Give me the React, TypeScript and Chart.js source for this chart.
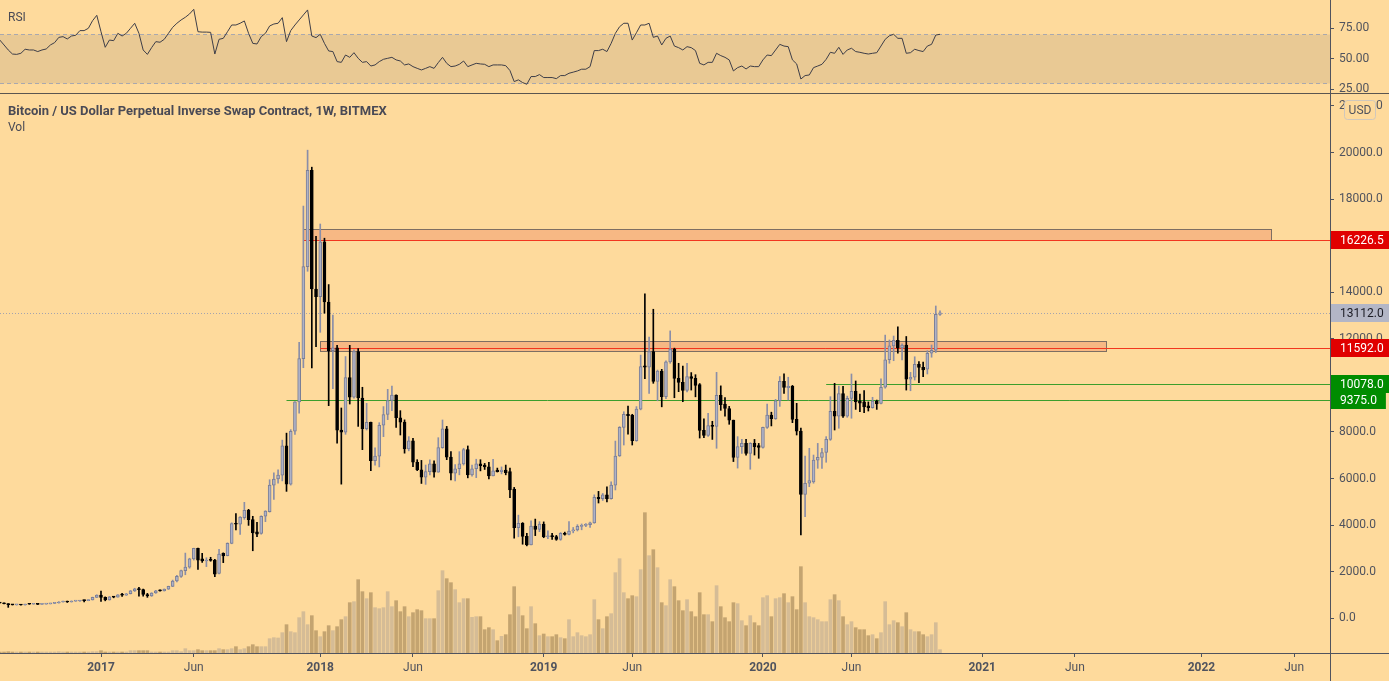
import React, { useEffect, useRef } from 'react';
import { Chart, registerables } from 'chart.js';
Chart.register(...registerables);

// ---------- data (weekly bars, first bar = week of 2016-07-18) ----------
const FIRST_WEEK_UTC = Date.UTC(2016, 6, 18);
const WEEK_MS = 7 * 86400000;

const opens = [
  665, 655, 625, 590, 575, 582, 572, 608, 605, 610, 600, 611, 618, 640, 655, 700, 705, 700, 740, 742, 770, 760, 790, 900,
  1000, 900, 790, 920, 912, 1010, 995, 1055, 1180, 1270, 1230, 1020, 965, 1085, 1190, 1180, 1250, 1370, 1600, 1800,
  2050, 2200, 2550, 3000, 2550, 2460, 2510, 2500, 1930, 2790, 2690, 3220, 4070, 4040, 4320, 4640, 4240, 3710, 3640, 4380,
  4580, 5720, 5980, 6150, 7400, 5760, 8030, 9290, 11150, 15100, 19230, 14140, 13810, 16160, 13580, 11490, 11610, 8080,
  7990, 10340, 9490, 11450, 9460, 8140, 8410, 6770, 6960, 8290, 8750, 9350, 9580, 8610, 8420, 7270, 7620, 6700, 6380,
  6060, 6300, 6630, 6270, 7330, 8140, 6920, 6230, 6420, 6630, 7240, 6160, 6420, 6630, 6580, 6500, 6110, 6360, 6300, 6360,
  6300, 5550, 3890, 4080, 3520, 3150, 3960, 3820, 4050, 3500, 3540, 3510, 3390, 3650, 3600, 3750, 3800, 3950, 3990, 4020,
  4100, 5190, 5140, 5300, 5140, 5720, 6970, 8200, 8760, 8730, 7630, 8980, 10840, 10780, 11450, 10170, 10610, 9520, 11010,
  11560, 10300, 10130, 9780, 10380, 10300, 10030, 8070, 7850, 8280, 8240, 9570, 9200, 9010, 8510, 6910, 7370, 7510, 7080,
  7510, 7420, 7340, 8200, 8730, 8570, 9340, 10180, 9900, 9960, 8540, 8040, 5320, 5800, 5860, 6790, 6910, 7120, 7680, 8890,
  8680, 9650, 8680, 9440, 9750, 9330, 9290, 9120, 9040, 9330, 9230, 9920, 11100, 11700, 11940, 11610, 11730, 10270, 10350,
  10910, 10780, 10700, 11380, 11510, 13050,
];
const highs = [
  680, 660, 628, 600, 590, 590, 612, 630, 612, 612, 612, 622, 645, 660, 720, 740, 740, 750, 745, 775, 785, 795, 910, 1010,
  1170, 920, 935, 930, 1020, 1070, 1065, 1195, 1290, 1335, 1250, 1070, 1100, 1200, 1220, 1260, 1380, 1640, 1850, 2070,
  2800, 2580, 3010, 3010, 2790, 2600, 2620, 2530, 2960, 2810, 3240, 4100, 4500, 4370, 4980, 4680, 4380, 4120, 4400, 4620,
  5950, 6250, 6380, 7650, 7950, 8100, 9300, 11850, 17700, 20100, 19370, 16400, 16930, 16320, 14330, 13020, 11720, 9030,
  11240, 11720, 11530, 11580, 9920, 9230, 8420, 7320, 8400, 9090, 9830, 9975, 9600, 8915, 8520, 7800, 7730, 6810, 6780,
  6580, 6800, 6760, 7755, 8515, 8240, 7155, 6600, 7155, 7300, 7400, 6580, 6830, 6810, 6650, 6700, 6830, 6450, 6500, 6580,
  6450, 5620, 4430, 4110, 3650, 4190, 4260, 4150, 4140, 3760, 3650, 3560, 3680, 3700, 4150, 3900, 4020, 4050, 4070, 4130,
  5300, 5450, 5360, 5650, 5860, 7610, 8230, 8870, 9110, 8760, 9090, 11300, 13930, 12070, 13270, 10660, 10690, 11060, 12340,
  11600, 10950, 10830, 10950, 10550, 10460, 10080, 8570, 8800, 8460, 10560, 9980, 9480, 9100, 8510, 7800, 7680, 7680,
  7540, 7680, 7510, 8210, 9200, 8850, 9400, 10380, 10500, 10350, 10000, 9230, 8170, 6970, 7300, 7010, 7510, 7300, 7800,
  9515, 10090, 9970, 9960, 9540, 10490, 10190, 9630, 9780, 9290, 9490, 9370, 10280, 12160, 11950, 12120, 12510, 11780,
  12100, 10560, 11230, 11020, 11000, 11490, 11735, 13410, 13200,
];
const lows = [
  645, 620, 470, 570, 565, 565, 568, 600, 603, 590, 595, 605, 615, 628, 650, 690, 680, 695, 725, 725, 700, 755, 785, 890,
  730, 750, 780, 880, 905, 940, 985, 1045, 1150, 950, 950, 900, 940, 1070, 1160, 1170, 1240, 1360, 1560, 1750,
  1870, 2150, 2500, 2100, 2400, 2220, 2450, 1790, 1910, 2390, 2680, 3200, 3790, 3600, 4250, 3990, 2900, 3500, 3610, 4150,
  4560, 5100, 5800, 5900, 5450, 5720, 7900, 8810, 10760, 14900, 10750, 11660, 12280, 13100, 9130, 9860, 7520, 5760,
  7900, 9200, 9450, 8240, 7240, 8085, 6340, 6570, 6500, 7800, 8530, 8915, 8200, 7870, 7090, 7190, 6510, 6340, 5790,
  5750, 6160, 6060, 6270, 7300, 6810, 5940, 5900, 6160, 6580, 6030, 6100, 6040, 6330, 6390, 5980, 6110, 6280, 6200, 6160,
  5180, 3440, 3500, 3180, 3110, 3150, 3550, 3720, 3460, 3420, 3390, 3350, 3350, 3570, 3580, 3670, 3750, 3800, 3930, 3900,
  4080, 4950, 5060, 5000, 5120, 5510, 6950, 7440, 7910, 7440, 7600, 8950, 10290, 9660, 10090, 9340, 9080, 9430, 10950,
  9470, 9730, 9300, 9720, 9800, 9510, 7740, 7760, 7810, 7680, 7300, 8930, 8680, 8330, 6730, 6450, 7080, 7000,
  6400, 7010, 6870, 7300, 8150, 8260, 8540, 9100, 9660, 9370, 8400, 7870, 3580, 4360, 5650, 5800, 6440, 6440, 6700,
  7640, 8085, 8160, 8620, 8630, 8590, 8970, 8870, 8830, 8900, 9020, 8970, 9200, 9880, 10950, 11060, 11380, 11090,
  9800, 9770, 10230, 10120, 10370, 10490, 11210, 11410, 13010,
];
const closes = [
  655, 625, 590, 575, 582, 572, 608, 605, 610, 600, 611, 618, 640, 655, 700, 705, 700, 740, 742, 765, 760, 790, 900, 1000,
  900, 790, 920, 912, 1010, 995, 1055, 1180, 1270, 1230, 1020, 965, 1085, 1180, 1180, 1250, 1370, 1600, 1800, 2050,
  2200, 2550, 3000, 2500, 2460, 2500, 2490, 1900, 2760, 2680, 3220, 4070, 4040, 4350, 4640, 4240, 3670, 3610, 4380, 4600,
  5720, 5980, 6150, 7400, 5760, 8030, 9290, 11150, 15100, 19230, 14140, 13810, 16160, 13580, 11490, 11610, 8080, 7990,
  10340, 9490, 11450, 9460, 8140, 8410, 6770, 6960, 8290, 8750, 9350, 9580, 8610, 8420, 7270, 7620, 6700, 6380, 6060,
  6300, 6630, 6270, 7330, 8140, 6920, 6230, 6420, 6630, 7240, 6160, 6420, 6630, 6550, 6500, 6110, 6330, 6300, 6360, 6250,
  5510, 3890, 4080, 3520, 3150, 3960, 3820, 4050, 3510, 3540, 3510, 3390, 3650, 3600, 3750, 3800, 3950, 3990, 4020, 4100,
  5190, 5140, 5300, 5140, 5720, 6970, 8200, 8760, 8700, 7630, 8980, 10810, 10780, 11450, 10170, 10610, 9520, 11010, 11560,
  10300, 10130, 9780, 10380, 10300, 10000, 8070, 7850, 8280, 8240, 9570, 9170, 9010, 8510, 6910, 7370, 7510, 7080, 7510,
  7370, 7340, 8200, 8730, 8570, 9340, 10180, 9910, 9960, 8540, 8040, 5320, 5800, 5910, 6790, 6910, 7120, 7680, 8890,
  8680, 9650, 8680, 9440, 9750, 9290, 9240, 9080, 9040, 9330, 9200, 9920, 11100, 11700, 11940, 11610, 11730, 10270, 10350,
  10910, 10770, 10670, 11380, 11510, 13050, 13112,
];
// weekly volume (relative units)
const volumes = [
  0.3, 0.3, 0.4, 0.3, 0.3, 0.3, 0.3, 0.3, 0.3, 0.3, 0.3, 0.3, 0.3, 0.3, 0.4, 0.3, 0.3, 0.3, 0.3, 0.3, 0.3, 0.3, 0.4, 0.4,
  0.7, 0.3, 0.3, 0.3, 0.3, 0.3, 0.3, 0.7, 0.7, 0.7, 0.7, 0.7, 0.3, 0.3, 0.3, 0.3, 0.3, 0.7, 0.7, 0.4,
  1.3, 0.7, 0.7, 1.0, 0.7, 0.7, 0.7, 0.7, 1.3, 1.0, 1.0, 1.3, 1.9, 1.0, 1.3, 1.9, 2.5, 1.9, 1.9, 1.9,
  4.3, 4.6, 4.5, 6.1, 8.5, 6.4, 6.1, 10.6, 12.4, 8.5, 11.2, 6.7, 4.9, 6.4, 8.2, 6.7, 7.9, 10.0, 10.9, 15.1,
  15.4, 22.0, 18.4, 16.3, 18.1, 13.6, 13.3, 13.6, 18.4, 13.9, 15.7, 12.4, 13.9, 10.9, 12.1, 13.0, 12.7, 10.3, 10.3, 10.3,
  18.7, 24.7, 22.3, 21.1, 19.0, 15.1, 16.3, 16.3, 10.7, 10.9, 10.9, 7.0, 7.6, 7.0, 3.7, 5.0, 5.5, 11.5, 19.9, 13.9,
  11.2, 7.3, 13.9, 8.8, 5.2, 5.7, 4.9, 4.9, 5.5, 4.6, 4.3, 10.0, 4.9, 6.1, 5.2, 4.9, 5.5, 16.0, 10.0, 7.3,
  10.9, 11.8, 24.1, 28.3, 18.1, 16.3, 17.2, 16.9, 25.0, 42.1, 29.2, 31.0, 25.6, 15.1, 14.2, 22.0, 19.9, 15.7, 12.7, 16.0,
  12.4, 10.9, 18.1, 11.5, 11.5, 9.4, 20.2, 13.9, 10.6, 9.4, 15.1, 14.8, 9.7, 8.2, 11.2, 9.1, 8.2, 16.6, 17.2, 10.9,
  16.3, 16.6, 17.8, 15.1, 16.9, 13.0, 25.9, 15.1, 10.9, 10.6, 10.0, 9.4, 9.4, 16.0, 17.5, 15.7, 10.9, 8.5, 9.4, 7.6,
  7.0, 7.0, 5.2, 5.5, 4.3, 6.1, 15.4, 8.5, 9.7, 9.1, 7.9, 12.1, 7.0, 6.4, 6.4, 5.5, 4.9, 5.5, 9.1, 1.0,
];
// RSI(14)
const rsiValues = [
  65.3, 61.3, 57.2, 53.9, 53.6, 54.5, 57.8, 57.2, 57.2, 55.9, 57.2, 58.0, 61.3, 63.2, 67.5, 68.1, 66.2, 68.6, 69.2, 73.0, 73.0, 74.9, 81.1, 85.5,
  72.1, 59.4, 65.3, 64.8, 70.8, 68.6, 70.8, 74.9, 79.0, 70.8, 57.2, 53.6, 59.1, 64.0, 63.5, 65.9, 70.8, 75.7, 79.0, 81.7,
  83.9, 86.6, 90.4, 72.1, 71.8, 71.8, 71.6, 53.9, 65.9, 66.7, 72.1, 77.6, 77.6, 79.0, 80.9, 70.8, 62.6, 62.1, 68.1, 70.8,
  76.8, 78.4, 79.0, 83.6, 64.0, 73.0, 77.6, 81.7, 85.8, 89.9, 68.6, 67.3, 70.0, 62.6, 56.4, 55.9, 47.7, 47.1, 53.1, 51.2,
  55.0, 50.4, 47.1, 47.7, 44.1, 45.0, 47.7, 49.6, 50.4, 51.2, 49.1, 48.2, 45.0, 45.8, 43.6, 42.2, 40.9, 42.2, 43.6, 42.2,
  46.9, 51.2, 46.3, 43.6, 44.1, 45.5, 48.2, 43.6, 45.0, 46.3, 45.8, 45.5, 43.6, 45.0, 45.0, 45.0, 44.4, 40.4, 31.4, 32.8,
  30.6, 29.2, 35.5, 35.5, 37.1, 34.7, 34.7, 34.7, 33.8, 36.3, 36.3, 38.2, 39.1, 40.1, 41.5, 41.5, 43.6, 56.7, 56.7, 57.8,
  55.9, 62.6, 70.8, 76.2, 79.0, 79.0, 65.3, 71.3, 77.6, 77.6, 79.0, 67.5, 68.6, 61.3, 66.7, 68.6, 60.4, 59.1, 57.2, 59.9,
  59.1, 56.7, 46.3, 45.0, 47.1, 47.1, 54.5, 52.6, 51.2, 49.1, 40.1, 42.8, 44.1, 41.7, 44.1, 43.6, 43.6, 49.1, 53.1, 52.6,
  57.2, 61.8, 60.4, 59.9, 49.1, 45.8, 33.5, 36.3, 36.8, 42.8, 44.1, 45.5, 49.6, 55.3, 54.5, 59.4, 53.6, 57.2, 58.6, 55.9,
  55.3, 54.5, 53.9, 54.5, 55.0, 60.4, 65.9, 68.8, 70.0, 66.7, 66.7, 54.5, 55.0, 57.8, 56.7, 55.9, 60.4, 61.8, 69.4, 70.0,
];

// drawings (zones and horizontal levels), positions in weeks from first bar
const zoneStartWeek = [72, 76];
const zoneEndWeek = [301.5, 262.3];
const zoneTop = [16702, 11893];
const zoneBottom = [16226.5, 11464];

const levelPrice = [16226.5, 11592, 10078, 9375];
const levelStartWeek = [72, 76, 196, 68];
const levelKind = ['red', 'red', 'green', 'green'];

const priceTicks = [0, 2000, 4000, 6000, 8000, 10000, 12000, 14000, 16000, 18000, 20000, 22000];
const rsiTicks = [25, 50, 75];
const rsiBand = [30, 70];

// ---------- style ----------
const W = 1389;
const BG = '#FEDA9C';
const FONT = 'Roboto, "Liberation Sans", Arial, sans-serif';
const TEXT = '#50535E';
const AXIS = '#50535E';
const UP_FILL = '#AFB2C6';
const UP_BORDER = '#7A7E96';
const UP_WICK = '#8A8EA8';
const DOWN = '#000000';
const VOL_UP = '#D5BC96';
const VOL_DOWN = '#C4A470';
const ZONE_FILL = '#F7B884';
const ZONE_BORDER = '#7E6E62';
const RED_LINE = '#F2361E';
const GREEN_LINE = '#3C9E2C';
const RED_LABEL = '#E00000';
const GREEN_LABEL = '#008C00';
const LAST_LABEL = '#B3B6C6';
const RSI_LINE = '#3E3E48';
const RSI_FILL = '#E9C994';
const RSI_DASH = '#A9A8AE';

const X_MIN = 0.044;
const X_MAX = 315.5;

function buildTimeTicks(maxWeek: number) {
  const out: { value: number; label: string; year: boolean }[] = [];
  for (let i = 1; i <= maxWeek; i++) {
    const d = new Date(FIRST_WEEK_UTC + i * WEEK_MS);
    const p = new Date(FIRST_WEEK_UTC + (i - 1) * WEEK_MS);
    if (d.getUTCMonth() !== p.getUTCMonth()) {
      if (d.getUTCMonth() === 0) out.push({ value: i, label: String(d.getUTCFullYear()), year: true });
      else if (d.getUTCMonth() === 5) out.push({ value: i, label: 'Jun', year: false });
    }
  }
  return out;
}
const timeTicks = buildTimeTicks(Math.floor(X_MAX));
const tickLabel = new Map(timeTicks.map((t) => [t.value, t.label]));
const yearTicks = new Set(timeTicks.filter((t) => t.year).map((t) => t.value));

function mainConfig(): any {
  const idx = closes.map((_, i) => i);
  const up = idx.map((i) => closes[i] >= opens[i]);
  const bodyData = idx.map((i) => ({ x: i, y: [opens[i], closes[i]] }));
  const wickData = idx.map((i) => ({ x: i, y: [lows[i], highs[i]] }));
  const volData = idx.map((i) => ({ x: i, y: volumes[i] }));

  const overlay = {
    id: 'mainOverlay',
    beforeDatasetsDraw(chart: any) {
      const { ctx, chartArea: a } = chart;
      const x = chart.scales.x;
      const y = chart.scales.y;
      ctx.save();
      ctx.beginPath();
      ctx.rect(a.left, a.top, a.right - a.left, a.bottom - a.top);
      ctx.clip();
      zoneStartWeek.forEach((s, k) => {
        const x1 = Math.round(x.getPixelForValue(s)) + 0.5;
        const x2 = Math.round(x.getPixelForValue(zoneEndWeek[k])) + 0.5;
        const y1 = Math.round(y.getPixelForValue(zoneTop[k])) + 0.5;
        const y2 = Math.round(y.getPixelForValue(zoneBottom[k])) + 0.5;
        ctx.fillStyle = ZONE_FILL;
        ctx.fillRect(x1, y1, x2 - x1, y2 - y1);
        ctx.strokeStyle = ZONE_BORDER;
        ctx.lineWidth = 1;
        ctx.strokeRect(x1, y1, x2 - x1, y2 - y1);
      });
      levelPrice.forEach((p, k) => {
        const yy = Math.round(y.getPixelForValue(p)) + 0.5;
        ctx.strokeStyle = levelKind[k] === 'red' ? RED_LINE : GREEN_LINE;
        ctx.lineWidth = 1;
        ctx.beginPath();
        ctx.moveTo(x.getPixelForValue(levelStartWeek[k]), yy);
        ctx.lineTo(a.right, yy);
        ctx.stroke();
      });
      const last = closes[closes.length - 1];
      const ly = Math.round(y.getPixelForValue(last)) + 0.5;
      ctx.strokeStyle = '#A4A3AE';
      ctx.setLineDash([1, 2]);
      ctx.beginPath();
      ctx.moveTo(a.left, ly);
      ctx.lineTo(a.right, ly);
      ctx.stroke();
      ctx.setLineDash([]);
      ctx.restore();
    },
    afterDraw(chart: any) {
      const { ctx, chartArea: a, width, height } = chart;
      const y = chart.scales.y;
      ctx.save();
      // pane separator, axis lines
      ctx.fillStyle = '#5A5550';
      ctx.fillRect(0, 0, width, 1);
      ctx.fillStyle = AXIS;
      ctx.fillRect(Math.round(a.right), 0, 1, height);
      ctx.fillRect(0, Math.round(a.bottom), width, 1);
      // price labels on the axis
      const last = closes[closes.length - 1];
      const labels = [
        { p: levelPrice[0], bg: RED_LABEL, fg: '#FFFFFF' },
        { p: last, bg: LAST_LABEL, fg: '#1B1B24' },
        { p: levelPrice[1], bg: RED_LABEL, fg: '#FFFFFF' },
        { p: levelPrice[2], bg: GREEN_LABEL, fg: '#FFFFFF' },
        { p: levelPrice[3], bg: GREEN_LABEL, fg: '#FFFFFF' },
      ];
      ctx.font = '12px ' + FONT;
      ctx.textBaseline = 'middle';
      ctx.textAlign = 'left';
      labels.forEach((l) => {
        const t = l.p.toFixed(1);
        const tw = ctx.measureText(t).width;
        const cy = Math.round(y.getPixelForValue(l.p));
        ctx.fillStyle = l.bg;
        ctx.fillRect(Math.round(a.right) + 1, cy - 9, tw + 18, 18);
        ctx.fillStyle = l.fg;
        ctx.fillText(t, Math.round(a.right) + 10, cy + 1);
      });
      // currency box
      ctx.fillStyle = BG;
      ctx.beginPath();
      (ctx as any).roundRect(1344.5, 7.5, 31, 19, 3);
      ctx.fill();
      ctx.strokeStyle = '#CFC7BC';
      ctx.lineWidth = 1;
      ctx.stroke();
      ctx.fillStyle = TEXT;
      ctx.textAlign = 'center';
      ctx.fillText('USD', 1360, 17.5);
      // legend texts
      ctx.textAlign = 'left';
      ctx.textBaseline = 'alphabetic';
      ctx.fillStyle = '#4A4A55';
      ctx.font = 'bold 13px ' + FONT;
      ctx.fillText('Bitcoin / US Dollar Perpetual Inverse Swap Contract, 1W, BITMEX', 8, 22);
      ctx.font = '12px ' + FONT;
      ctx.fillText('Vol', 8, 38);
      ctx.restore();
    },
  };

  return {
    type: 'bar',
    data: {
      datasets: [
        {
          label: 'body', data: bodyData, xAxisID: 'x', yAxisID: 'y', grouped: false,
          barThickness: 3, minBarLength: 1,
          backgroundColor: up.map((u) => (u ? UP_FILL : DOWN)),
          borderColor: up.map((u) => (u ? UP_BORDER : DOWN)),
          borderWidth: 1, borderSkipped: false, order: 1,
        },
        {
          label: 'wick', data: wickData, xAxisID: 'x', yAxisID: 'y', grouped: false,
          barThickness: 1, backgroundColor: up.map((u) => (u ? UP_WICK : DOWN)), borderWidth: 0, order: 2,
        },
        {
          label: 'volume', data: volData, xAxisID: 'x', yAxisID: 'yVol', grouped: false,
          barThickness: 3, backgroundColor: up.map((u) => (u ? VOL_UP : VOL_DOWN)), borderWidth: 0, order: 3,
        },
      ],
    },
    options: {
      responsive: false, animation: false, devicePixelRatio: 1, events: [],
      layout: { padding: 0 },
      plugins: { legend: { display: false }, tooltip: { enabled: false } },
      scales: {
        x: {
          type: 'linear', min: X_MIN, max: X_MAX, offset: false, position: 'bottom',
          grid: { display: true, offset: false, drawOnChartArea: false, drawTicks: true, tickLength: 4, color: AXIS },
          border: { display: false },
          ticks: {
            autoSkip: false, maxRotation: 0, padding: 4, color: TEXT,
            font: (c: any) => ({ family: FONT, size: 12, weight: c.tick && yearTicks.has(c.tick.value) ? 'bold' : 'normal' }),
            callback: (v: number) => tickLabel.get(v) ?? '',
          },
          afterBuildTicks: (s: any) => { s.ticks = timeTicks.map((t) => ({ value: t.value })); },
          afterFit: (s: any) => { s.height = 28; s.paddingLeft = 0; s.paddingRight = 0; },
        },
        y: {
          type: 'linear', position: 'right', min: -1490, max: 22555,
          grid: { display: true, drawOnChartArea: false, drawTicks: true, tickLength: 4, color: AXIS },
          border: { display: false },
          ticks: {
            autoSkip: false, padding: 5, color: TEXT, font: { family: FONT, size: 12 },
            callback: (v: number) => v.toFixed(1),
          },
          afterBuildTicks: (s: any) => { s.ticks = priceTicks.map((v) => ({ value: v })); },
          afterFit: (s: any) => { s.width = 59; s.paddingTop = 0; s.paddingBottom = 0; },
        },
        yVol: { type: 'linear', display: false, min: 0, max: 168 },
      },
    },
    plugins: [overlay],
  };
}

function rsiConfig(): any {
  const data = rsiValues.map((v, i) => ({ x: i, y: v }));
  const overlay = {
    id: 'rsiOverlay',
    beforeDatasetsDraw(chart: any) {
      const { ctx, chartArea: a } = chart;
      const y = chart.scales.y;
      const yTop = Math.round(y.getPixelForValue(rsiBand[1])) + 0.5;
      const yBot = Math.round(y.getPixelForValue(rsiBand[0])) + 0.5;
      ctx.save();
      ctx.fillStyle = RSI_FILL;
      ctx.fillRect(a.left, yTop, a.right - a.left, yBot - yTop);
      ctx.strokeStyle = RSI_DASH;
      ctx.lineWidth = 1;
      ctx.setLineDash([4, 3]);
      [yTop, yBot].forEach((yy) => {
        ctx.beginPath();
        ctx.moveTo(a.left, yy);
        ctx.lineTo(a.right, yy);
        ctx.stroke();
      });
      ctx.restore();
    },
    afterDraw(chart: any) {
      const { ctx, chartArea: a, height } = chart;
      ctx.save();
      ctx.fillStyle = AXIS;
      ctx.fillRect(Math.round(a.right), 0, 1, height);
      ctx.fillStyle = '#4A4A55';
      ctx.font = '12px ' + FONT;
      ctx.textBaseline = 'alphabetic';
      ctx.fillText('RSI', 8, 21);
      ctx.restore();
    },
  };
  return {
    type: 'line',
    data: {
      datasets: [
        { label: 'RSI', data, borderColor: RSI_LINE, borderWidth: 1, pointRadius: 0, tension: 0, fill: false },
      ],
    },
    options: {
      responsive: false, animation: false, devicePixelRatio: 1, events: [],
      layout: { padding: 0 },
      plugins: { legend: { display: false }, tooltip: { enabled: false } },
      scales: {
        x: { type: 'linear', min: X_MIN, max: X_MAX, display: false },
        y: {
          type: 'linear', position: 'right', min: 22.08, max: 98.0,
          grid: { display: true, drawOnChartArea: false, drawTicks: true, tickLength: 4, color: AXIS },
          border: { display: false },
          ticks: { autoSkip: false, padding: 5, color: TEXT, font: { family: FONT, size: 12 }, callback: (v: number) => v.toFixed(2) },
          afterBuildTicks: (s: any) => { s.ticks = rsiTicks.map((v) => ({ value: v })); },
          afterFit: (s: any) => { s.width = 59; s.paddingTop = 0; s.paddingBottom = 0; },
        },
      },
    },
    plugins: [overlay],
  };
}

export default function App() {
  const rsiRef = useRef<HTMLCanvasElement>(null);
  const mainRef = useRef<HTMLCanvasElement>(null);
  useEffect(() => {
    document.body.style.margin = '0';
    document.body.style.background = BG;
    const c1 = new Chart(rsiRef.current as HTMLCanvasElement, rsiConfig());
    const c2 = new Chart(mainRef.current as HTMLCanvasElement, mainConfig());
    return () => {
      c1.destroy();
      c2.destroy();
    };
  }, []);
  return (
    <div style={{ width: W, height: 681, background: BG, overflow: 'hidden' }}>
      <canvas ref={rsiRef} width={W} height={93} style={{ display: 'block', width: W, height: 93 }} />
      <canvas ref={mainRef} width={W} height={588} style={{ display: 'block', width: W, height: 588 }} />
    </div>
  );
}
